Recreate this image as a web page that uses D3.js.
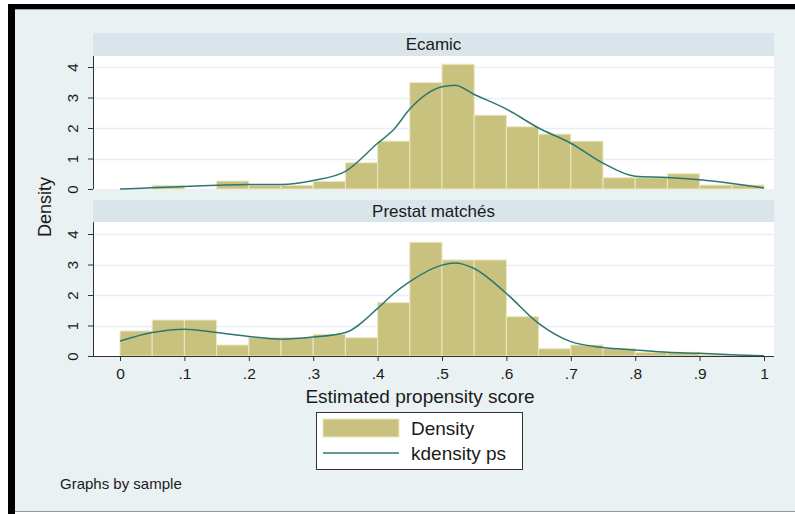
<!DOCTYPE html>
<html>
<head>
<meta charset="utf-8">
<script src="https://cdn.jsdelivr.net/npm/d3@7"></script>
<style>
  body { margin: 0; background: #fff; }
  text { font-family: "Liberation Sans", Arial, sans-serif; fill: #1a1a1a; }
</style>
</head>
<body>
<div id="chart"></div>
<script>
// histogram bins (width .05) and kernel density
var binStarts = [0, .05, .1, .15, .2, .25, .3, .35, .4, .45, .5, .55, .6, .65, .7, .75, .8, .85, .9, .95]
var ecamicBars = [0, .12, 0, .26, .12, .12, .25, .86, 1.57, 3.49, 4.09, 2.42, 2.04, 1.8, 1.57, .37, .37, .5, .13, .13]
var prestatBars = [.82, 1.18, 1.18, .36, .6, .6, .71, .6, 1.75, 3.73, 3.15, 3.15, 1.29, .24, .36, .24, .12, .12, .04, 0]

var kdX = [0, .05, .1, .15, .2, .25, .3, .35, .4, .425, .45, .5, .52, .55, .6, .65, .7, .75, .8, .85, .9, .95, 1]
var ecamicKd = [0, .04, .08, .12, .15, .15, .28, .58, 1.5, 1.95, 2.62, 3.35, 3.4, 3.1, 2.62, 2.0, 1.5, .85, .42, .38, .3, .18, .03]
var prestatKd = [.49, .77, .88, .77, .64, .55, .62, .77, 1.56, 2.05, 2.44, 2.98, 3.05, 2.87, 2.05, 1.07, .47, .28, .2, .12, .09, .04, .01]

var panelNames = ["Ecamic", "Prestat matchés"]
var xTicks = [0, .1, .2, .3, .4, .5, .6, .7, .8, .9, 1]
var yTicks = [0, 1, 2, 3, 4]

var W = 795, H = 514
var barFill = "#c9c27f", barLine = "#ebe7c2", kdColor = "#2b7773"

var svg = d3.select("#chart").append("svg")
    .attr("width", W).attr("height", H)

// frame
svg.append("rect").attr("x", 15).attr("y", 9).attr("width", W - 15).attr("height", 503).attr("fill", "#eaf1f3")
svg.append("rect").attr("x", 8).attr("y", 4).attr("width", W - 8).attr("height", 5).attr("fill", "#000")
svg.append("rect").attr("x", 8).attr("y", 4).attr("width", 7).attr("height", H - 4).attr("fill", "#000")
svg.append("line").attr("x1", 15).attr("x2", W).attr("y1", 9.5).attr("y2", 9.5).attr("stroke", "#9aa").attr("stroke-width", 1)
svg.append("line").attr("x1", 15).attr("x2", W).attr("y1", 511.5).attr("y2", 511.5).attr("stroke", "#999").attr("stroke-width", 1)

var x = d3.scaleLinear().domain([0, 1]).range([120, 764])
var left = 93, right = 774

var panels = [
    { name: panelNames[0], bars: ecamicBars, kd: ecamicKd, top: 33, headH: 23, plotBottom: 189 },
    { name: panelNames[1], bars: prestatBars, kd: prestatKd, top: 200, headH: 22, plotBottom: 356 }
]

panels.forEach(function(p, i) {
    var plotTop = p.top + p.headH
    var y = d3.scaleLinear().domain([0, 4]).range([p.plotBottom, p.plotBottom - 122])
    var g = svg.append("g")

    g.append("rect").attr("x", left).attr("y", p.top).attr("width", right - left).attr("height", p.headH).attr("fill", "#d9e5eb")
    g.append("text").attr("x", (left + right) / 2).attr("y", p.top + 17)
        .attr("text-anchor", "middle").style("font-size", "17px").text(p.name)

    g.append("rect").attr("x", left).attr("y", plotTop).attr("width", right - left).attr("height", p.plotBottom - plotTop).attr("fill", "#fff")

    g.selectAll(".grid").data(yTicks.slice(1)).enter().append("line")
        .attr("x1", left).attr("x2", right)
        .attr("y1", function(d) { return Math.round(y(d)) + 0.5 })
        .attr("y2", function(d) { return Math.round(y(d)) + 0.5 })
        .attr("stroke", "#e6eff1").attr("stroke-width", 1.5)

    g.selectAll(".bar").data(p.bars).enter().append("rect")
        .attr("x", function(d, j) { return x(binStarts[j]) })
        .attr("y", function(d) { return y(d) })
        .attr("width", x(.05) - x(0))
        .attr("height", function(d) { return p.plotBottom - y(d) })
        .attr("fill", barFill).attr("stroke", barLine).attr("stroke-width", 1)
        .style("display", function(d) { return d > 0 ? null : "none" })

    var line = d3.line()
        .x(function(d, j) { return x(kdX[j]) })
        .y(function(d) { return y(d) })
        .curve(d3.curveMonotoneX)
    g.append("path").datum(p.kd).attr("d", line)
        .attr("fill", "none").attr("stroke", kdColor).attr("stroke-width", 1.5)

    // y axis
    var ya = g.append("g").attr("transform", "translate(" + left + ",0)")
        .call(d3.axisLeft(y).tickValues(yTicks).tickSize(5).tickFormat(d3.format("d")))
    ya.select(".domain").attr("d", "M0.5," + plotTop + "V" + p.plotBottom).attr("stroke", "#333")
    ya.selectAll(".tick line").attr("stroke", "#333")
    ya.selectAll(".tick text")
        .attr("x", null).attr("dy", null)
        .attr("transform", "translate(-15,0) rotate(-90)")
        .attr("text-anchor", "middle").attr("y", 0)
        .style("font-size", "15px").style("fill", "#1a1a1a")

    if (i == 1) {
        var xa = g.append("g").attr("transform", "translate(0," + p.plotBottom + ")")
            .call(d3.axisBottom(x).tickValues(xTicks).tickSize(5)
                .tickFormat(function(d) { return d == 0 || d == 1 ? String(d) : String(d).replace("0.", ".") }))
        xa.select(".domain").attr("d", "M" + left + ",0.5H" + right).attr("stroke", "#333")
        xa.selectAll(".tick line").attr("stroke", "#333")
        xa.selectAll(".tick text").attr("y", 12).style("font-size", "15.5px").style("fill", "#1a1a1a")
    }
})

svg.append("text").attr("transform", "translate(51,207) rotate(-90)")
    .attr("text-anchor", "middle").style("font-size", "18px").text("Density")

svg.append("text").attr("x", 420).attr("y", 403)
    .attr("text-anchor", "middle").style("font-size", "19px").text("Estimated propensity score")

// legend
var lg = svg.append("g")
lg.append("rect").attr("x", 316.5).attr("y", 412.5).attr("width", 206).attr("height", 57)
    .attr("fill", "#fff").attr("stroke", "#333").attr("stroke-width", 1)
lg.append("rect").attr("x", 323).attr("y", 419).attr("width", 76).attr("height", 18)
    .attr("fill", barFill).attr("stroke", barLine)
lg.append("line").attr("x1", 323).attr("x2", 399).attr("y1", 453).attr("y2", 453)
    .attr("stroke", kdColor).attr("stroke-width", 1.5)
lg.append("text").attr("x", 411).attr("y", 435).style("font-size", "19px").text("Density")
lg.append("text").attr("x", 411).attr("y", 460).style("font-size", "19px").text("kdensity ps")

svg.append("text").attr("x", 60).attr("y", 489).style("font-size", "15px").text("Graphs by sample")
</script>
</body>
</html>
